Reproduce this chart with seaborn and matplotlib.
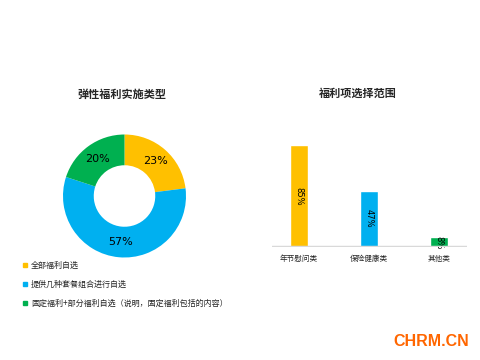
import matplotlib
matplotlib.use("Agg")
import matplotlib.pyplot as plt
import seaborn as sns
import pandas as pd

sns.set_theme(style="white")
plt.rcParams['font.family'] = ['Noto Sans CJK SC', 'DejaVu Sans']

# Data
pie_title = "弹性福利实施类型"
pie_labels = ["全部福利自选", "提供几种套餐组合进行自选", "固定福利+部分福利自选（说明，固定福利包括的内容）"]
pie_values = [23, 57, 20]
pie_colors = ["#FFC000", "#00B0F0", "#00B050"]

bar_title = "福利项选择范围"
bar_categories = ["年节慰问类", "保险健康类", "其他类"]
bar_values = [85, 47, 8]
bar_colors = ["#FFC000", "#00B0F0", "#00B050"]

W, H = 481, 360
fig = plt.figure(figsize=(W / 100, H / 100), dpi=100)

def fx(px):
    return px / W

def fy(py):
    return 1 - py / H

# Donut
cx, cy, r = 124.5, 196, 61.5
axp = fig.add_axes([fx(cx - r), fy(cy + r), fx(2 * r), (2 * r) / H])
wedges, texts, autotexts = axp.pie(
    pie_values, colors=pie_colors, startangle=90, counterclock=False,
    radius=1, autopct=lambda p: f"{p:.0f}%", pctdistance=0.75,
    wedgeprops=dict(width=0.5, edgecolor="none"),
    textprops=dict(fontsize=8, color="black", family=["DejaVu Sans"]))
axp.set_xlim(-1, 1)
axp.set_ylim(-1, 1)
axp.set_aspect("equal")
axp.axis("off")

fig.text(fx(122), fy(94), pie_title, ha="center", va="center", fontsize=8, fontweight="bold")

# Legend
leg_y = [265, 284, 303]
for lbl, col, yy in zip(pie_labels, pie_colors, leg_y):
    fig.patches.append(plt.Rectangle((fx(23), fy(yy + 2)), fx(4), 4 / H,
                                     transform=fig.transFigure, color=col, figure=fig))
    fig.text(fx(31), fy(yy), lbl, ha="left", va="center", fontsize=5.8)

# Bar chart
base_y, top_y = 247, 120
axb = fig.add_axes([fx(272), fy(base_y), fx(195), (base_y - top_y) / H])
df = pd.DataFrame({"cat": bar_categories, "val": bar_values})
sns.barplot(data=df, x="cat", y="val", hue="cat", palette=bar_colors,
            width=0.27, legend=False, ax=axb, saturation=1)
axb.set_ylim(0, (base_y - top_y) / 1.2)
axb.set_xlim(-0.386, 2.4)
for s in axb.spines.values():
    s.set_visible(False)
axb.axhline(0, color="#D9D9D9", lw=2.5, zorder=5)
axb.set_yticks([])
axb.set_xlabel("")
axb.set_ylabel("")
axb.tick_params(axis="x", length=0, labelsize=5.5, pad=6)
for i, v in enumerate(bar_values):
    axb.text(i, v / 2, f"{v}%", rotation=270, ha="center", va="center",
             fontsize=6, color="black", family=["DejaVu Sans"])

fig.text(fx(358), fy(93), bar_title, ha="center", va="center", fontsize=8, fontweight="bold")

fig.text(fx(431), fy(341), "CHRM.CN", ha="center", va="center", fontsize=11.5,
         fontweight="bold", color="#FF6600", family=["Liberation Sans", "DejaVu Sans"])

fig.savefig("out.png", dpi=100)
